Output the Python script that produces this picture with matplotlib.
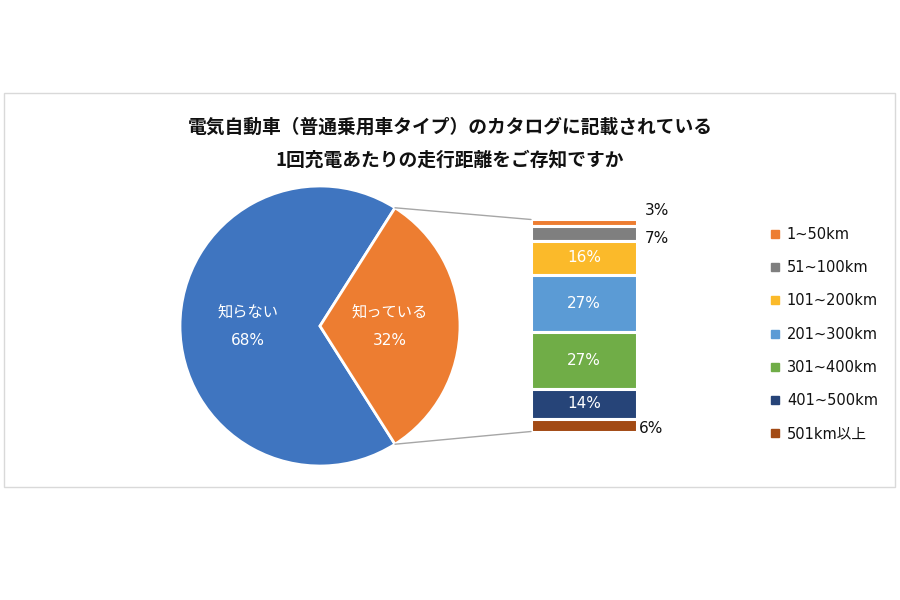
import matplotlib
matplotlib.use("Agg")
import matplotlib.pyplot as plt
import numpy as np
from matplotlib.patches import Rectangle, ConnectionPatch
from matplotlib.lines import Line2D

plt.rcParams['font.family'] = ['Noto Sans CJK JP', 'DejaVu Sans']
LATIN = ['DejaVu Sans', 'Noto Sans CJK JP']

# ---- data ----
title_lines = ["電気自動車（普通乗用車タイプ）のカタログに記載されている",
               "1回充電あたりの走行距離をご存知ですか"]
pie_labels = ["知らない", "知っている"]
pie_values = [68, 32]
pie_colors = ["#3F75C0", "#ED7D31"]

bar_labels = ["1~50km", "51~100km", "101~200km", "201~300km",
              "301~400km", "401~500km", "501km以上"]
bar_values = [3, 7, 16, 27, 27, 14, 6]
bar_colors = ["#ED7D31", "#7F7F7F", "#FBBA2A", "#5B9BD5",
              "#70AD47", "#264478", "#A24A14"]

W, H = 900, 600
fig = plt.figure(figsize=(9, 6), dpi=100)
fig.patch.set_facecolor("white")

def fx(px):
    return px / W

def fy(py):
    return 1 - py / H

# chart frame
fig.patches.append(Rectangle((fx(4), fy(487)), fx(891), (487 - 93) / H,
                             transform=fig.transFigure, fill=False,
                             edgecolor="#D9D9D9", linewidth=1.0))

# title
fig.text(0.5, fy(127), title_lines[0], ha="center", va="center",
         fontsize=13.5, fontweight="bold", color="#111111")
fig.text(0.5, fy(160), title_lines[1], ha="center", va="center",
         fontsize=13.5, fontweight="bold", color="#111111")

# ---- pie ----
cx, cy, r = 320, 326, 140
axp = fig.add_axes([fx(cx - r), fy(cy + r), 2 * r / W, 2 * r / H])
start = 360 * pie_values[1] / sum(pie_values) / 2
wedges, _ = axp.pie(pie_values, colors=pie_colors, startangle=start,
                    counterclock=True,
                    wedgeprops=dict(edgecolor="white", linewidth=2))
axp.set_xlim(-1, 1)
axp.set_ylim(-1, 1)
axp.set_aspect("equal")
axp.axis("off")

# pie labels
label_pos = [(-0.515, 0.0), (0.5, 0.0)]
for (x, y), lab, v in zip(label_pos, pie_labels, pie_values):
    axp.text(x, y + 0.1, lab, ha="center", va="center", color="white",
             fontsize=11)
    axp.text(x, y - 0.105, f"{v}%", ha="center", va="center", color="white",
             fontsize=11, fontfamily=LATIN)

# ---- stacked bar ----
bx0, bx1, by0, by1 = 531, 637, 219.5, 431.5
axb = fig.add_axes([fx(bx0), fy(by1), (bx1 - bx0) / W, (by1 - by0) / H])
bottom = 0
centers = []
for v, c in zip(bar_values, bar_colors):
    axb.bar(0, v, bottom=bottom, width=1.0, color=c, edgecolor="white",
            linewidth=2.2)
    centers.append(bottom + v / 2)
    bottom += v
axb.set_xlim(-0.5, 0.5)
axb.set_ylim(sum(bar_values), 0)
axb.axis("off")

offsets = {0: (20, 12), 1: (20, -5), 6: (14, -3)}
for i, (v, yc) in enumerate(zip(bar_values, centers)):
    if i in offsets:
        dx, dy = offsets[i]
        axb.annotate(f"{v}%", xy=(0.5, yc), xytext=(dx, dy),
                     textcoords="offset pixels", ha="center", va="center",
                     fontsize=11, color="#111111", fontfamily=LATIN)
    else:
        axb.text(0, yc, f"{v}%", ha="center", va="center", color="white",
                 fontsize=11, fontfamily=LATIN)

# ---- connectors ----
w2 = wedges[1]
for ang, yb in ((w2.theta2, 0), (w2.theta1, sum(bar_values))):
    a = np.deg2rad(ang)
    con = ConnectionPatch(xyA=(np.cos(a), np.sin(a)), coordsA=axp.transData,
                          xyB=(-0.5, yb), coordsB=axb.transData,
                          color="#A6A6A6", linewidth=1.0)
    fig.add_artist(con)

# ---- legend ----
handles = [Line2D([], [], marker="s", linestyle="none", markersize=5.5,
                  markerfacecolor=c, markeredgecolor=c) for c in bar_colors]
leg = fig.legend(handles, bar_labels, loc="upper left",
                 bbox_to_anchor=(fx(770.5), fy(227)), frameon=False,
                 prop=dict(family=LATIN, size=10.5),
                 handlelength=0.6, handletextpad=0.52,
                 labelspacing=1.25, borderaxespad=0, borderpad=0)
for t in leg.get_texts():
    t.set_color("#111111")

fig.savefig("out.png", dpi=100, facecolor="white")
